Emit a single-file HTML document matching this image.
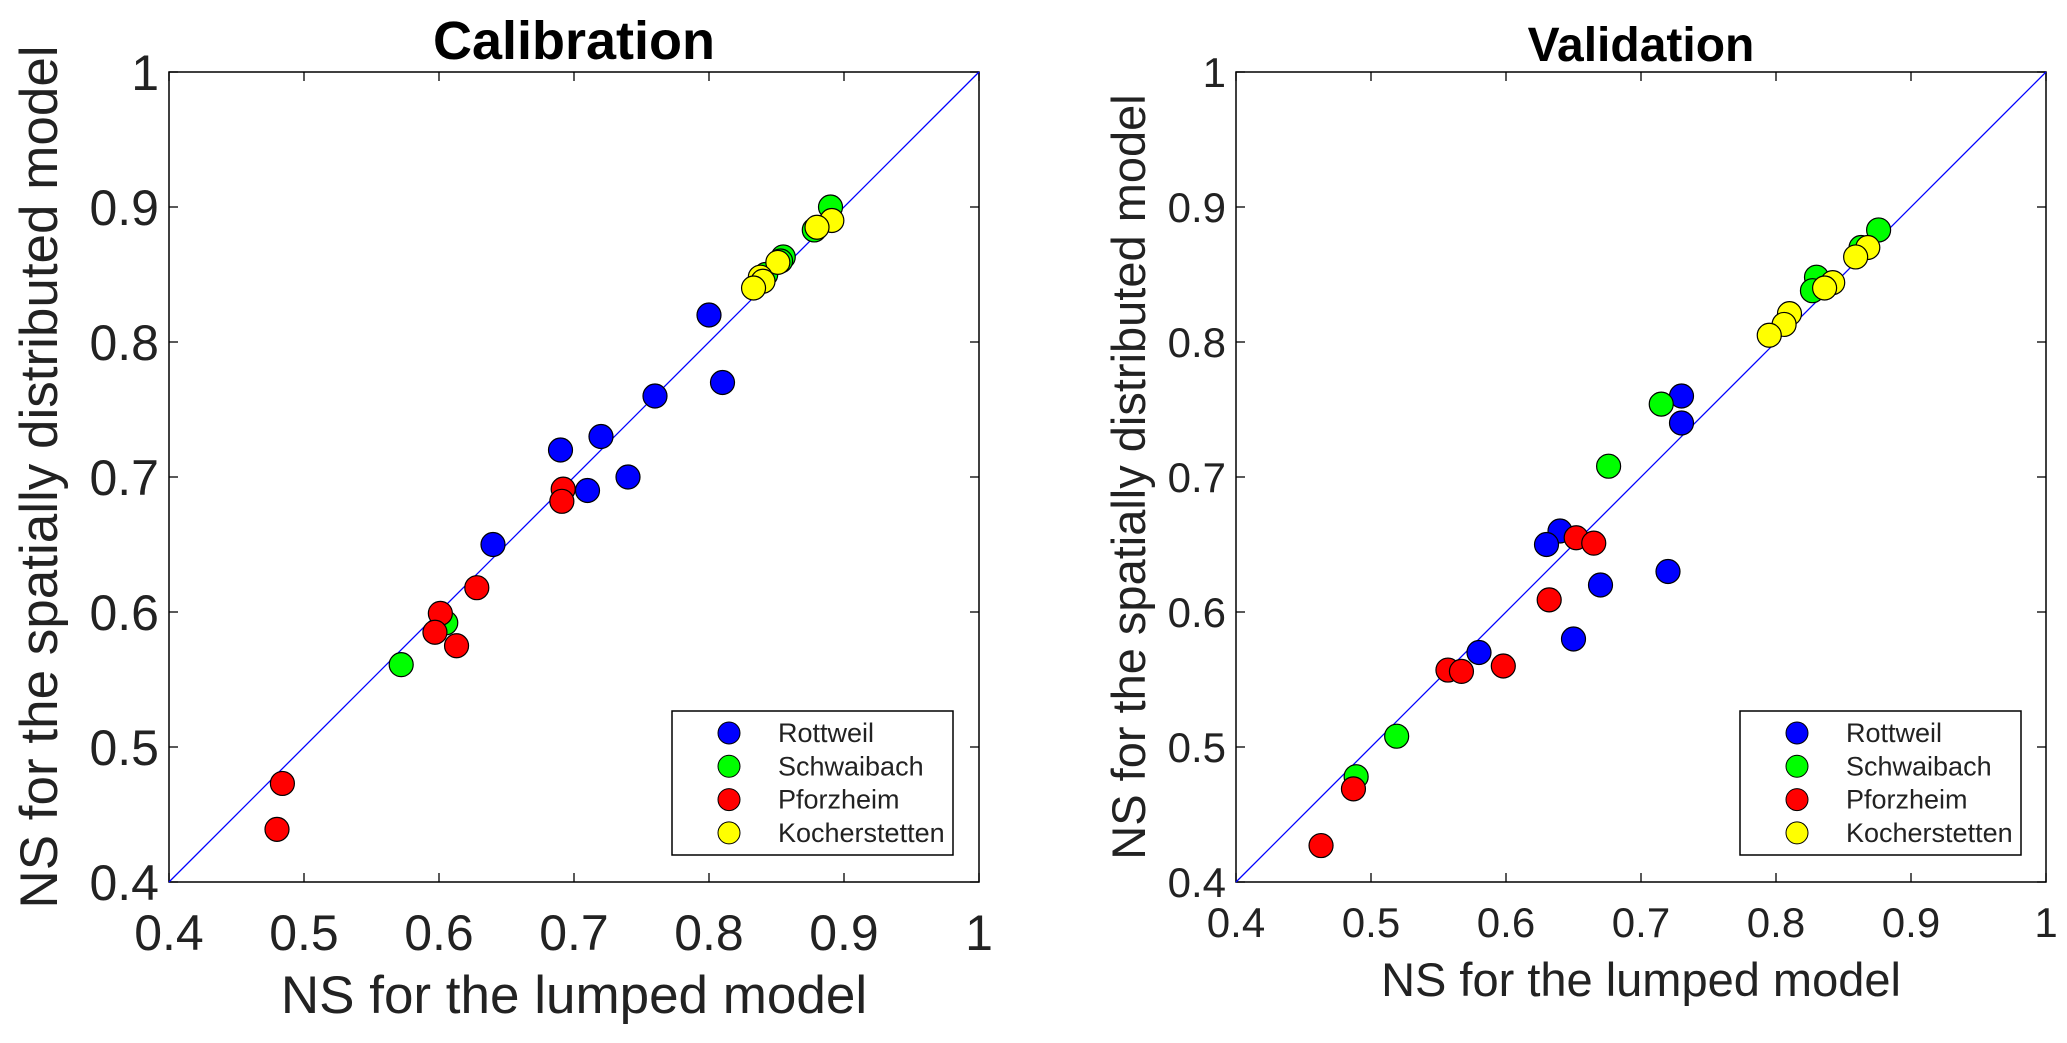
<!DOCTYPE html>
<html><head><meta charset="utf-8"><style>
html,body{margin:0;padding:0;background:#fff;}
svg{display:block;font-family:"Liberation Sans",Arial,sans-serif;}
</style></head><body>
<svg id="chart" width="2067" height="1043" viewBox="0 0 2067 1043" xmlns="http://www.w3.org/2000/svg"></svg>
<script>
const ticks = [0.4,0.5,0.6,0.7,0.8,0.9,1];
const tickLabels = ["0.4","0.5","0.6","0.7","0.8","0.9","1"];
const seriesNames = ["Rottweil","Schwaibach","Pforzheim","Kocherstetten"];
const seriesColors = ["#0000ff","#00ff00","#ff0000","#ffff00"];
// Calibration
const calRottX = [0.80,0.81,0.76,0.69,0.72,0.74,0.71,0.64];
const calRottY = [0.82,0.77,0.76,0.72,0.73,0.70,0.69,0.65];
const calSchwX = [0.89,0.878,0.855,0.853,0.842,0.605,0.572];
const calSchwY = [0.90,0.883,0.863,0.86,0.85,0.592,0.561];
const calPforX = [0.692,0.691,0.628,0.601,0.597,0.613,0.484,0.480];
const calPforY = [0.691,0.682,0.618,0.599,0.585,0.575,0.473,0.439];
const calKochX = [0.891,0.880,0.851,0.838,0.840,0.833];
const calKochY = [0.890,0.885,0.859,0.848,0.845,0.840];
// Validation
const valRottX = [0.73,0.73,0.64,0.63,0.67,0.72,0.65,0.58];
const valRottY = [0.76,0.74,0.66,0.65,0.62,0.63,0.58,0.57];
const valSchwX = [0.876,0.863,0.83,0.827,0.715,0.676,0.519,0.489];
const valSchwY = [0.883,0.870,0.848,0.838,0.754,0.708,0.508,0.478];
const valPforX = [0.652,0.665,0.632,0.557,0.567,0.598,0.487,0.463];
const valPforY = [0.655,0.651,0.609,0.557,0.556,0.560,0.469,0.427];
const valKochX = [0.868,0.859,0.842,0.836,0.810,0.806,0.795];
const valKochY = [0.870,0.863,0.844,0.840,0.821,0.813,0.805];

const NS="http://www.w3.org/2000/svg";
const svg=document.getElementById('chart');
function mk(tag,attrs,parent,text){const e=document.createElementNS(NS,tag);for(const k in attrs)e.setAttribute(k,attrs[k]);if(text!==undefined)e.textContent=text;(parent||svg).appendChild(e);return e;}

function panel(cfg){
  const g=mk('g',{});
  
  
  const L=cfg.left,R=cfg.left+810,T=72,B=882;
  const sx=v=>L+(v-0.4)/0.6*(R-L);
  const sy=v=>B-(v-0.4)/0.6*(B-T);
  const box=mk('rect',{x:L,y:T,width:R-L,height:B-T,fill:'#fff',stroke:'#000','stroke-width':1.5},g);
  
  
  ticks.forEach((t,i)=>{
    mk('line',{x1:sx(t),x2:sx(t),y1:B,y2:B-9,stroke:'#000','stroke-width':1.3},g);
    mk('line',{x1:sx(t),x2:sx(t),y1:T,y2:T+9,stroke:'#000','stroke-width':1.3},g);
    mk('line',{x1:L,x2:L+9,y1:sy(t),y2:sy(t),stroke:'#000','stroke-width':1.3},g);
    mk('line',{x1:R,x2:R-9,y1:sy(t),y2:sy(t),stroke:'#000','stroke-width':1.3},g);
    const xt=mk('text',{x:sx(t),y:cfg.xTickY,'font-size':cfg.tickFs,'text-anchor':'middle',fill:'#222'},g,tickLabels[i]);
    
    
    const yt=mk('text',{x:L-10,y:sy(t)+cfg.tickFs*0.36,'font-size':cfg.tickFs,'text-anchor':'end',fill:'#222'},g,tickLabels[i]);
    
    
  });
  const diag=mk('line',{x1:sx(0.4),y1:sy(0.4),x2:sx(1),y2:sy(1),stroke:'#0000ff','stroke-width':1.3},g);
  
  
  cfg.series.forEach((s,si)=>{
    s[0].forEach((xv,j)=>{
      const c=mk('circle',{cx:sx(xv),cy:sy(s[1][j]),r:12,fill:seriesColors[si],stroke:'#000','stroke-width':1.2},g);
      
      
    });
  });
  const tt=mk('text',{x:(L+R)/2,y:cfg.titleY,'font-size':cfg.titleFs,'font-weight':'bold','text-anchor':'middle'},g,cfg.title);
  
  
  const xl=mk('text',{x:(L+R)/2,y:cfg.xLabY,'font-size':cfg.labFs,'text-anchor':'middle',fill:'#222'},g,'NS for the lumped model');
  
  
  const cy=(T+B)/2;
  const yl=mk('text',{x:cfg.yLabX,y:cy,'font-size':cfg.yLabFs,'text-anchor':'middle',fill:'#222',transform:`rotate(-90 ${cfg.yLabX} ${cy})`},g,'NS for the spatially distributed model');
  
  
  const lx=cfg.legX,ly=711;
  const leg=mk('g',{},g);
  
  
  mk('rect',{x:lx,y:ly,width:281,height:144,fill:'#fff',stroke:'#000','stroke-width':1.5},leg);
  seriesNames.forEach((n,i)=>{
    const e=mk('g',{},leg);
    
    
    const yy=ly+22+i*33.3;
    mk('circle',{cx:lx+57,cy:yy,r:11,fill:seriesColors[i],stroke:'#000','stroke-width':1},e);
    mk('text',{x:lx+106,y:yy+9,'font-size':27,fill:'#222'},e,n);
  });
}
panel({name:'calibration-panel',left:169,title:'Calibration',titleY:59,titleFs:54,tickFs:50,labFs:53,yLabFs:53,xTickY:950,xLabY:1013,yLabX:57,legX:672,
  series:[[calRottX,calRottY],[calSchwX,calSchwY],[calPforX,calPforY],[calKochX,calKochY]]});
panel({name:'validation-panel',left:1236,title:'Validation',titleY:61,titleFs:48,tickFs:42,labFs:47,yLabFs:47,xTickY:937,xLabY:996,yLabX:1145,legX:1740,
  series:[[valRottX,valRottY],[valSchwX,valSchwY],[valPforX,valPforY],[valKochX,valKochY]]});
</script>
</body></html>
